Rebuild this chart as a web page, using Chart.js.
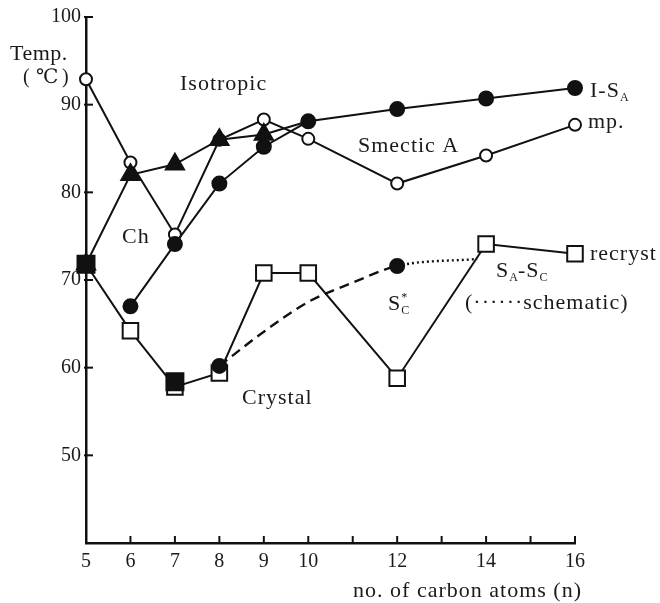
<!DOCTYPE html>
<html>
<head>
<meta charset="utf-8">
<script src="https://cdn.jsdelivr.net/npm/chart.js@4.4.1/dist/chart.umd.min.js"></script>
<style>
  html, body { margin: 0; padding: 0; background: #fff; }
  #wrap { width: 660px; height: 603px; }
</style>
</head>
<body>
<div id="wrap"><canvas id="phaseChart" width="660" height="603"></canvas></div>
<script>
// Transition temperatures (deg C) against number of carbon atoms n
const chainLengths = [5, 6, 7, 8, 9, 10, 12, 14, 16];
const meltingPoint = [92.9, 83.4, 75.2, 86.0, 88.3, 86.1, 81.0, 84.2, 87.7];
const recrystallization = [71.8, 64.2, 57.8, 59.4, 70.8, 70.8, 58.8, 74.1, 73.0];

// I - S_A (and Ch - S_A for the short chains)
const isoSmecticN = [6, 7, 8, 9, 10, 12, 14, 16];
const isoSmecticT = [67.0, 74.1, 81.0, 85.2, 88.1, 89.5, 90.7, 91.9];

// Ch - I
const cholestericN = [5, 6, 7, 8, 9, 10];
const cholestericT = [71.8, 82.0, 83.2, 86.0, 86.6, 88.1];

// S_A - S_C* boundary, read along the dashed / dotted curve
const smecticCN = [8, 9, 10, 11, 12, 13.8];
const smecticCT = [60.2, 64.1, 67.5, 69.7, 71.6, 72.4];

// crystal melting straight to Ch
const crystalN = [5, 7];
const crystalT = [71.8, 58.4];

const xTickLabels = [5, 6, 7, 8, 9, 10, 12, 14, 16];
const yTickLabels = [50, 60, 70, 80, 90, 100];

const ink = '#111';
const serif = "'Liberation Serif', 'DejaVu Serif', serif";
const pts = (xs, ys) => xs.map((x, i) => ({ x: x, y: ys[i] }));

// inward tick marks plus the phase labels
const decorations = {
  id: 'decorations',
  afterDraw(chart) {
    const { ctx, scales: { x, y }, chartArea } = chart;
    ctx.save();
    ctx.strokeStyle = ink;
    ctx.lineWidth = 2;
    for (let n = 6; n <= 16; n++) {
      const px = x.getPixelForValue(n);
      ctx.beginPath();
      ctx.moveTo(px, chartArea.bottom);
      ctx.lineTo(px, chartArea.bottom - 7);
      ctx.stroke();
    }
    yTickLabels.forEach(v => {
      const py = y.getPixelForValue(v);
      ctx.beginPath();
      ctx.moveTo(chartArea.left - 2, py);
      ctx.lineTo(chartArea.left + 7, py);
      ctx.stroke();
    });

    ctx.fillStyle = '#1a1a1a';
    ctx.textBaseline = 'alphabetic';
    const text = (s, px, py, size, align, spacing) => {
      ctx.font = size + 'px ' + serif;
      ctx.textAlign = align || 'left';
      ctx.letterSpacing = (spacing === undefined ? 1 : spacing) + 'px';
      ctx.fillText(s, px, py);
      return ctx.measureText(s).width;
    };

    text('Temp.', 10, 60, 22, 'left', 0.5);
    text('(', 23, 83, 20, 'left', 0);
    text('\u2103', 36, 83, 20, 'left', 0);
    text(')', 62, 83, 20, 'left', 0);

    text('Isotropic', 180, 90, 22);
    text('Ch', 122, 243, 22);
    text('Smectic A', 358, 152, 22);
    text('Crystal', 242, 404, 22);

    let w = text('I-S', 590, 97, 22);
    text('A', 590 + w, 101, 12, 'left', 0);
    text('mp.', 588, 128, 22);
    text('recryst', 590, 260, 22);

    w = text('S', 496, 277, 22);
    let cx = 496 + w;
    w = text('A', cx, 281, 12, 'left', 0);
    cx += w;
    w = text('-S', cx, 277, 22);
    cx += w;
    text('C', cx, 281, 12, 'left', 0);

    w = text('S', 388, 310, 22);
    text('*', 388 + w, 301, 12, 'left', 0);
    text('C', 388 + w, 314, 12, 'left', 0);

    text('(\u00b7\u00b7\u00b7\u00b7\u00b7\u00b7schematic)', 465, 309, 22);

    text('no. of carbon atoms (n)', 582, 597, 22, 'right');
    ctx.restore();
  }
};

const lineBase = {
  showLine: true,
  clip: false,
  borderColor: ink,
  borderWidth: 2,
  pointBorderColor: ink,
  pointBorderWidth: 2,
  pointHoverRadius: 0
};

const datasets = [
  {
    ...lineBase,
    label: 'crystal',
    data: pts(crystalN, crystalT),
    showLine: false,
    pointStyle: 'rect',
    pointRadius: 12,
    pointBackgroundColor: ink
  },
  {
    ...lineBase,
    label: 'SA-SC*',
    data: pts(smecticCN, smecticCT),
    borderWidth: 2.4,
    cubicInterpolationMode: 'monotone',
    pointStyle: 'circle',
    pointRadius: smecticCN.map((n, i) => (i === 0 || n === 12) ? 7 : 0),
    pointBackgroundColor: ink,
    segment: {
      borderDash: c => c.p1DataIndex === smecticCN.length - 1 ? [2, 3] : [10, 6]
    }
  },
  {
    ...lineBase,
    label: 'I-SA',
    data: pts(isoSmecticN, isoSmecticT),
    pointStyle: 'circle',
    pointRadius: 7,
    pointBackgroundColor: ink
  },
  {
    ...lineBase,
    label: 'Ch-I',
    data: pts(cholestericN, cholestericT),
    pointStyle: 'triangle',
    pointRadius: cholestericN.map(n => n === 10 ? 0 : 10.5),
    pointBackgroundColor: ink
  },
  {
    ...lineBase,
    label: 'mp.',
    data: pts(chainLengths, meltingPoint),
    pointStyle: 'circle',
    pointRadius: 6,
    pointBackgroundColor: chainLengths.map(n => n === 8 ? ink : '#fff')
  },
  {
    ...lineBase,
    label: 'recryst',
    data: pts(chainLengths, recrystallization),
    pointStyle: 'rect',
    pointRadius: 11,
    pointBackgroundColor: '#fff'
  }
];

new Chart(document.getElementById('phaseChart'), {
  type: 'scatter',
  data: { datasets: datasets },
  options: {
    responsive: false,
    animation: false,
    events: [],
    layout: { padding: { top: 15, right: 85, left: 0, bottom: 0 } },
    plugins: {
      legend: { display: false },
      tooltip: { enabled: false }
    },
    scales: {
      x: {
        type: 'linear',
        min: 5,
        max: 16,
        afterFit: s => { s.height = 60; },
        grid: { display: false, drawTicks: false },
        border: { display: true, color: ink, width: 2.5 },
        ticks: {
          stepSize: 1,
          autoSkip: false,
          maxRotation: 0,
          padding: 7,
          color: '#1a1a1a',
          font: { family: serif, size: 20 },
          callback: v => xTickLabels.includes(v) ? String(v) : ''
        }
      },
      y: {
        type: 'linear',
        min: 40,
        max: 100,
        afterFit: s => { s.width = 86; },
        grid: { display: false, drawTicks: false },
        border: { display: true, color: ink, width: 2.5 },
        ticks: {
          stepSize: 10,
          padding: 5,
          color: '#1a1a1a',
          font: { family: serif, size: 20 },
          callback: v => yTickLabels.includes(v) ? String(v) : ''
        }
      }
    }
  },
  plugins: [decorations]
});
</script>
</body>
</html>
